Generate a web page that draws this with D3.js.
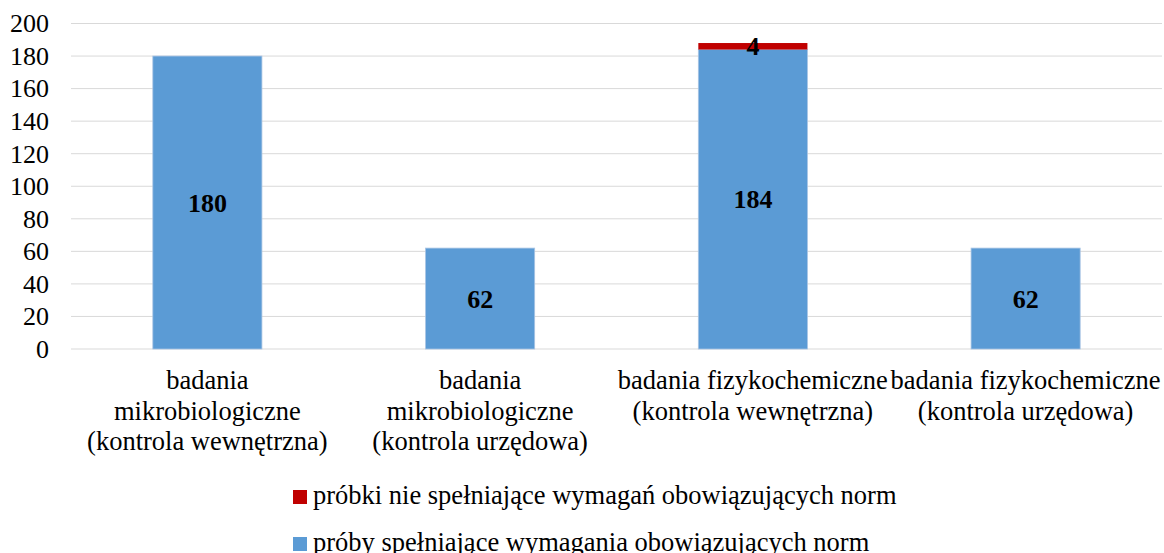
<!DOCTYPE html>
<html><head><meta charset="utf-8">
<script src="https://cdn.jsdelivr.net/npm/d3@7"></script>
<style>body{margin:0;background:#fff}svg{display:block}</style>
</head><body><svg id="c" width="1164" height="553"></svg>
<script>
const categories = [
  ["badania","mikrobiologiczne","(kontrola wewnętrzna)"],
  ["badania","mikrobiologiczne","(kontrola urzędowa)"],
  ["badania fizykochemiczne","(kontrola wewnętrzna)"],
  ["badania fizykochemiczne","(kontrola urzędowa)"]
];
const okValues = [180, 62, 184, 62];
const failValues = [0, 0, 4, 0];
const yTicks = [0,20,40,60,80,100,120,140,160,180,200];
const seriesNames = ["próbki nie spełniające wymagań obowiązujących norm","próby spełniające wymagania obowiązujących norm"];
const colors = {ok:"#5b9bd5", fail:"#c00000"};

(function(){
const FONT = "Liberation Serif";
const FS = 26.5;
const svg = d3.select("#c");
const pLeft = 71, pRight = 1162, pTop = 23.5, pBottom = 349;
const x = d3.scaleBand().domain(d3.range(categories.length)).range([pLeft, pRight]).paddingInner(0.6).paddingOuter(0.3);
const y = d3.scaleLinear().domain([0,200]).range([pBottom, pTop]);

svg.append("g").selectAll("line").data(yTicks).join("line")
  .attr("x1", pLeft).attr("x2", pRight)
  .attr("y1", d=>y(d)).attr("y2", d=>y(d))
  .attr("stroke", "#d9d9d9").attr("stroke-width", 1);

const ya = svg.append("g").attr("transform", `translate(${pLeft},0)`)
  .call(d3.axisLeft(y).tickValues(yTicks).tickSize(0).tickPadding(22));
ya.select(".domain").remove();
ya.selectAll("text").attr("fill", "#000").attr("font-family", FONT).attr("font-size", 26);

const idx = d3.range(categories.length);
svg.append("g").selectAll("rect").data(idx).join("rect")
  .attr("x", i=>x(i)).attr("width", x.bandwidth())
  .attr("y", i=>y(okValues[i])).attr("height", i=>y(0)-y(okValues[i]))
  .attr("fill", colors.ok).attr("stroke","#a9c4e4").attr("stroke-width",0.8);
svg.append("g").selectAll("rect").data(idx.filter(i=>failValues[i]>0)).join("rect")
  .attr("x", i=>x(i)).attr("width", x.bandwidth())
  .attr("y", i=>y(okValues[i]+failValues[i])).attr("height", i=>y(okValues[i])-y(okValues[i]+failValues[i]))
  .attr("fill", colors.fail);

svg.append("g").selectAll("text").data(idx).join("text")
  .attr("x", i=>x(i)+x.bandwidth()/2).attr("y", i=>y(okValues[i]/2))
  .attr("dy","0.35em").attr("text-anchor","middle").attr("font-family", FONT)
  .attr("font-size", 26).attr("font-weight","bold").text(i=>okValues[i]);
svg.append("g").selectAll("text").data(idx.filter(i=>failValues[i]>0)).join("text")
  .attr("x", i=>x(i)+x.bandwidth()/2).attr("y", i=>y(okValues[i]+failValues[i]/2))
  .attr("dy","0.35em").attr("text-anchor","middle").attr("font-family", FONT)
  .attr("font-size", 26).attr("font-weight","bold").text(i=>failValues[i]);

const cg = svg.append("g");
idx.forEach(i=>{
  const t = cg.append("text").attr("text-anchor","middle").attr("font-size",FS).attr("font-family", FONT)
    .attr("x", x(i)+x.bandwidth()/2).attr("y", 389);
  categories[i].forEach((ln,k)=>t.append("tspan").attr("x", x(i)+x.bandwidth()/2).attr("dy", k?30.5:0).text(ln));
});

const lg = svg.append("g");
const legendItems = [{name:seriesNames[0], color:colors.fail, cy:497},{name:seriesNames[1], color:colors.ok, cy:544}];
legendItems.forEach(d=>{
  lg.append("rect").attr("x",293).attr("y",d.cy-7).attr("width",14).attr("height",14).attr("fill",d.color);
  lg.append("text").attr("x",313).attr("y",d.cy+7).attr("font-family", FONT).attr("font-size",FS).text(d.name);
});
})();
</script></body></html>
